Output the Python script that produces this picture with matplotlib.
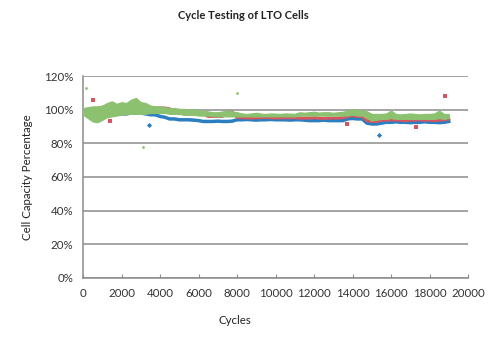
import numpy as np
import matplotlib
matplotlib.use("Agg")
import matplotlib.pyplot as plt

plt.rcParams['font.family'] = ['Lato', 'DejaVu Sans']

# cycle positions, every 250 cycles up to 19000
cycles = np.arange(0, 19001, 250)

# cell capacity (%)
blue = [98, 98, 97.5, 97.5, 97, 97, 97.5, 97.5, 97.5, 97.5, 98, 98, 98, 97.5,
        97, 97, 96, 95.5, 94.5, 94.5, 94, 94, 94, 93.8, 93.5, 93, 93, 93, 93.2,
        93, 93, 93.2, 94, 94, 94.2, 94, 93.8, 94, 94, 94.2, 94, 94, 94, 93.8,
        94, 94, 93.8, 93.5, 93.5, 93.5, 93.8, 93.5, 93.5, 93.5, 93.5, 94.5, 94.8,
        94.5, 94.5, 92, 91.5, 91.5, 92, 92.5, 92.5, 92.8, 92.5, 92.5, 92.3, 92.5,
        92.5, 92.8, 92.5, 92.5, 92.3, 92.5, 93]
red = [99.5, 99, 99, 99, 99, 98.5, 98.5, 98.5, 98.5, 98.5, 98.5, 98.5, 98.5,
       98.5, 101, 101, 101, 101, 100.5, 99, 99, 97.5, 97.5, 97.5, 97.5, 97.5,
       96, 96, 96, 96, 98.5, 98.5, 95.5, 95.2, 95.2, 95, 95.2, 95.2, 95.5, 95.2,
       95, 95.2, 95.2, 95.2, 95.2, 95, 95, 95, 95.2, 95, 94.8, 95, 95, 95, 95.2,
       96, 96.5, 96, 96, 93.5, 93, 93, 93.8, 93.8, 94, 93.8, 93.8, 93.5, 93.8,
       93.8, 94, 93.8, 93.8, 93.5, 93.8, 94, 94.5]
green_high = [101, 101.5, 102, 102, 102.5, 104, 105, 103.5, 104.5, 104, 106, 107,
              104.5, 104, 102.5, 102, 102, 101.5, 101, 101, 100.5, 100.5, 100,
              100.5, 99.5, 99.5, 99, 98.5, 98.5, 99, 99.5, 99, 98.5, 97.8, 97.5,
              97.8, 98.2, 97.7, 97.5, 97.8, 97.7, 97.5, 97.8, 97.7, 97.6, 98.5,
              98.2, 98.5, 98.8, 98.3, 98.5, 98.5, 98.2, 98.5, 98.8, 99.5, 100.5,
              99.5, 99.8, 99, 97.5, 97.5, 97.5, 97.8, 99.5, 97.5, 97.2, 97.5,
              97.8, 97.5, 97.2, 97.5, 97.5, 97.8, 99.5, 97.5, 97.5]
green_low = [97, 95, 93, 92.5, 94, 95.5, 96, 96.5, 97, 97.5, 97.5, 97.5, 97.5,
             97.5, 98, 98, 98, 98, 97.5, 97.5, 97.5, 97, 97, 97, 96.5, 96.5,
             96.5, 96, 96, 96, 96, 96, 96, 96, 96, 96, 96, 96, 96, 96, 96, 96,
             96, 96, 96, 96.5, 96.5, 96.5, 96.5, 96.5, 96.5, 96.5, 96.5, 96.5,
             96.5, 96.5, 97, 96.5, 96.5, 95, 93.5, 94, 94.5, 94.5, 95, 94.5,
             94.5, 94.5, 94.5, 94.5, 94.5, 94.5, 94.5, 94.5, 95, 94.5, 95]

# isolated points
red_out_x = [500, 1400, 13700, 17300, 18800]
red_out_y = [106, 93.5, 91.5, 90, 108]
blue_out_x = [3450, 15400]
blue_out_y = [91, 85]
green_out_x = [150, 3100, 8000]
green_out_y = [113, 78, 110]

c_blue = '#2b7ec0'
c_red = '#d6555f'
c_green = '#8cc170'

fig = plt.figure(figsize=(5, 3.41), dpi=100)
ax = fig.add_axes([0.166, 0.185, 0.77, 0.592])

ax.plot(cycles, blue, color=c_blue, lw=2.5, zorder=3)
ax.plot(cycles, red, color=c_red, lw=2.2, zorder=4)
ax.fill_between(cycles, green_low, green_high, color=c_green, lw=0.8,
                edgecolor=c_green, zorder=5)

ax.scatter(red_out_x, red_out_y, s=9, marker='s', color=c_red, lw=0, zorder=6)
ax.scatter(blue_out_x, blue_out_y, s=7, marker='D', color=c_blue, lw=0, zorder=6)
ax.scatter(green_out_x, green_out_y, s=4, marker='o', color=c_green, lw=0, zorder=6)

ax.set_xlim(0, 20000)
ax.set_ylim(0, 120)
ax.set_xticks(np.arange(0, 20001, 2000))
ax.set_yticks(np.arange(0, 121, 20))
ax.set_yticklabels([f'{v}%' for v in range(0, 121, 20)])

ax.grid(axis='y', color='#8c8c8c', lw=1.1)
ax.set_axisbelow(True)
for s in ['top', 'right']:
    ax.spines[s].set_visible(False)
for s in ['left', 'bottom']:
    ax.spines[s].set_color('#8c8c8c')
    ax.spines[s].set_linewidth(1.1)

ax.tick_params(axis='x', direction='in', length=3, color='#8c8c8c', pad=7,
               labelsize=8.3, labelcolor='#333333')
ax.tick_params(axis='y', length=0, pad=7, labelsize=8.3, labelcolor='#333333')

ax.set_ylabel('Cell Capacity Percentage', fontsize=8.3, color='#222222', labelpad=8)
ax.set_xlabel('Cycles', fontsize=8.3, color='#222222')
ax.xaxis.set_label_coords(0.395, -0.183)

fig.text(0.486, 0.955, 'Cycle Testing of LTO Cells', ha='center', va='center',
         fontsize=8, fontweight='bold', color='#222222')

fig.savefig('out.png', dpi=100)
